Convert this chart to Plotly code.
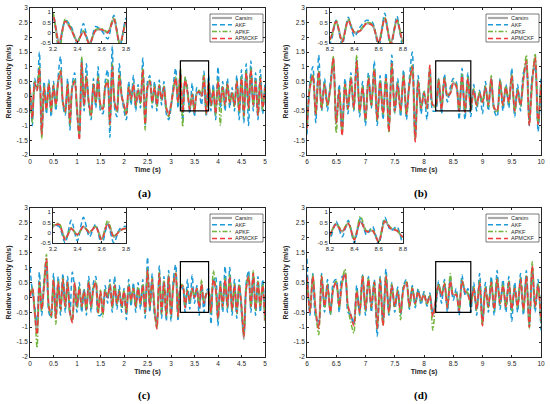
import numpy as np
import plotly.graph_objects as go

# sampling grid (0.05 s steps)
dt = 0.05
t_ac = np.round(np.arange(101) * dt, 2)
t_bd = np.round(6 + np.arange(81) * dt, 2)

series_names = ["Carsim", "AKF", "APKF", "APMCKF"]

# ---- panel (a), 0-5 s ----
carsim_a = [0.2, -0.7, 0.4, 0.2, 0.9, -1.35, 0.3, -0.4, 0.4, -0.5,
            0.35, -0.3, 0.5, 0.8, -0.2, -0.5, 0.4, -0.9, 0.3, 0.5,
            -0.4, -1.4, 1.1, -0.3, 0.6, -0.2, -0.6, 0.4, -0.2, 0.6,
            -0.3, -0.4, 0.3, 0.5, -0.9, 1.0, -0.2, -0.5, 0.7, 0.0,
            -0.3, -0.6, 0.3, -0.1, 0.4, -0.3, 0.2, -0.2, 0.85, -0.9,
            0.3, 0.5, -0.2, 0.3, -0.3, 0.35, -0.1, 0.3, -0.4, -0.6,
            -0.3, 0.2, 0.6, -0.2, 0.8, -0.5, 0.55, 0.15, -0.4, 0.05,
            -0.5, 0.1, 0.15, 0.0, 0.65, -0.55, 0.45, -0.3, 0.2, -0.6,
            0.5, -0.2, 0.3, -0.3, 0.4, -0.2, 0.1, -0.3, 0.5, -0.5,
            0.6, -0.6, 0.8, -0.4, 0.9, -0.3, 0.5, -0.6, 0.6, -0.4,
            0.3]
akf_a = [0.4, -1.0, 0.6, 0.3, 1.5, -1.2, 0.5, -0.6, 0.55, -0.7,
         0.5, -0.5, 0.7, 1.35, -0.3, -0.65, 0.6, -1.15, 0.4, 0.8,
         -0.6, -1.3, 1.3, -0.5, 1.1, -0.3, -0.8, 0.6, -0.4, 1.0,
         -0.5, -0.6, 0.5, 0.9, -1.4, 1.7, -0.4, -0.7, 1.1, 0.1,
         -0.5, -0.8, 0.5, -0.3, 0.7, -0.5, 0.4, -0.4, 1.3, -1.0,
         0.5, 0.7, -0.4, 0.5, -0.5, 0.55, -0.3, 0.5, -0.6, -0.8,
         -0.4, 0.4, 0.95, -0.4, 0.9, -0.85, 0.6, 0.3, -0.6, 0.45,
         -0.7, 0.3, 0.1, -0.3, 0.85, -0.7, 0.7, -0.5, 0.4, -0.8,
         1.0, -0.4, 0.5, -0.5, 0.6, -0.4, 0.3, -0.5, 0.7, -0.8,
         0.9, -0.9, 1.1, -1.0, 1.2, -0.5, 0.8, -0.8, 0.9, -0.6,
         0.45]
apkf_a = [0.3, -0.9, 0.5, 0.25, 1.0, -1.45, 0.35, -0.45, 0.45, -0.55,
          0.4, -0.35, 0.55, 0.9, -0.25, -0.55, 0.45, -1.0, 0.35, 0.55,
          -0.45, -1.3, 1.35, -0.35, 0.7, -0.25, -0.7, 0.45, -0.25, 0.7,
          -0.35, -0.45, 0.35, 0.6, -1.0, 1.1, -0.25, -0.55, 0.8, 0.05,
          -0.35, -0.65, 0.35, -0.15, 0.45, -0.35, 0.25, -0.25, 0.95, -1.15,
          0.35, 0.55, -0.25, 0.35, -0.35, 0.4, -0.15, 0.35, -0.45, -0.7,
          -0.35, 0.25, 0.65, -0.25, 0.95, -1.05, 0.65, 0.2, -0.45, 0.1,
          -0.55, 0.15, 0.2, 0.05, 0.75, -0.6, 0.5, -0.35, 0.25, -0.65,
          0.55, -1.0, 0.35, -0.35, 0.45, -0.25, 0.15, -0.35, 0.55, -0.55,
          0.65, -0.7, 0.85, -0.45, 0.95, -0.35, 0.55, -0.65, 0.65, -0.45,
          0.35]
apmckf_a = [0.25, -0.75, 0.45, 0.2, 0.95, -1.3, 0.3, -0.45, 0.4, -0.5,
            0.35, -0.3, 0.5, 0.85, -0.2, -0.5, 0.4, -0.9, 0.3, 0.5,
            -0.45, -1.5, 1.15, -0.3, 0.65, -0.2, -0.65, 0.4, -0.2, 0.6,
            -0.3, -0.45, 0.3, 0.5, -0.95, 1.0, -0.2, -0.5, 0.7, 0.0,
            -0.3, -0.6, 0.3, -0.1, 0.4, -0.3, 0.2, -0.2, 0.9, -0.95,
            0.3, 0.5, -0.2, 0.3, -0.3, 0.35, -0.1, 0.3, -0.4, -0.65,
            -0.3, 0.2, 0.6, -0.2, 0.85, -0.55, 0.55, 0.15, -0.45, 0.05,
            -0.55, 0.1, 0.15, 0.0, 0.65, -0.6, 0.5, -0.3, 0.2, -0.6,
            0.5, -0.2, 0.3, -0.3, 0.4, -0.2, 0.1, -0.3, 0.5, -0.5,
            0.6, -0.65, 0.8, -0.4, 0.9, -0.3, 0.5, -0.65, 0.6, -0.4,
            0.3]

# ---- panel (b), 6-10 s ----
carsim_b = [-1.1, 0.3, 0.7, -0.6, 0.8, -0.4, 0.4, -0.3, 0.3, 1.3,
            -0.9, 0.2, -1.3, 0.4, -0.4, 0.6, -0.4, 1.2, -0.5, 0.3,
            -0.8, 0.6, -0.3, 0.9, -0.8, 0.5, -0.6, 0.6, -1.15, 1.1,
            -0.5, 0.4, -0.5, 0.7, -0.6, 0.4, 1.0, -1.5, 0.5, -0.4,
            0.1, -0.4, 1.0, -0.3, -0.3, 0.55, -0.4, 0.6, 0.0, 0.1,
            0.45, 0.35, -0.45, 0.7, -0.5, 0.6, -0.4, 0.2, -0.3, 0.1,
            -0.2, 0.3, -0.3, 0.6, -0.4, -0.5, 0.5, -0.3, 0.3, -0.2,
            0.7, -0.5, 0.2, -0.3, 0.6, 1.2, -0.9, 0.5, 1.3, -0.9,
            0.4]
akf_b = [-1.3, 0.5, 1.0, -0.9, 1.4, -0.5, 0.6, -0.5, 0.5, 1.2,
         -0.9, 0.4, -1.1, 0.6, -0.6, 0.8, -0.5, 1.3, -0.7, 0.5,
         -1.0, 0.8, -0.4, 1.2, -1.0, 0.7, -0.8, 0.8, -1.0, 1.4,
         -0.6, 0.6, -0.7, 0.9, -0.8, 0.6, 1.5, -1.3, 0.7, -0.6,
         0.2, -0.8, 0.9, -0.5, -0.5, 0.6, -0.6, 0.75, -0.2, 0.3,
         0.6, 0.5, -0.8, 0.95, -0.8, 0.8, -0.7, 0.4, -0.5, 0.2,
         -0.6, 0.5, -0.5, 0.6, -0.5, -0.7, 0.6, -0.5, 0.4, -0.4,
         0.95, -0.7, 0.4, -0.5, 0.8, 1.0, -1.0, 0.7, 1.0, -1.2,
         0.6]
apkf_b = [-1.0, 0.35, 0.75, -0.65, 0.85, -0.45, 0.45, -0.35, 0.35, 1.35,
          -1.25, 0.25, -1.2, 0.45, -0.45, 0.65, -0.45, 1.4, -0.55, 0.35,
          -0.85, 0.65, -0.35, 0.95, -0.85, 0.55, -0.65, 0.65, -1.25, 1.15,
          -0.55, 0.45, -0.55, 0.75, -0.65, 0.45, 1.05, -1.4, 0.55, -0.45,
          0.15, -0.45, 0.95, -0.35, -0.35, 0.6, -0.45, 0.65, 0.05, 0.15,
          0.5, 0.4, -0.5, 0.75, -0.55, 0.65, -0.45, 0.25, -0.35, 0.15,
          -0.25, 0.35, -0.35, 0.7, -0.45, -0.55, 0.55, -0.35, 0.35, -0.25,
          0.75, -0.55, 0.25, -0.35, 0.65, 1.4, -0.95, 0.55, 1.45, -0.95,
          0.45]
apmckf_b = [-1.1, 0.3, 0.7, -0.6, 0.85, -0.4, 0.4, -0.3, 0.3, 1.3,
            -0.9, 0.2, -1.35, 0.4, -0.4, 0.6, -0.4, 1.2, -0.5, 0.3,
            -0.8, 0.6, -0.3, 0.9, -0.8, 0.5, -0.6, 0.6, -1.2, 1.1,
            -0.5, 0.4, -0.5, 0.7, -0.6, 0.4, 1.0, -1.55, 0.5, -0.4,
            0.1, -0.4, 1.05, -0.3, -0.3, 0.55, -0.45, 0.6, 0.0, 0.1,
            0.45, 0.35, -0.5, 0.7, -0.55, 0.6, -0.4, 0.2, -0.3, 0.1,
            -0.2, 0.3, -0.3, 0.6, -0.4, -0.5, 0.5, -0.3, 0.3, -0.2,
            0.7, -0.5, 0.2, -0.3, 0.6, 1.2, -1.0, 0.5, 1.3, -0.95,
            0.4]

# ---- panel (c), 0-5 s ----
carsim_c = [0.0, 0.3, -0.5, -1.2, 0.5, -0.4, 0.4, 1.3, -0.3, -0.6,
            0.6, -0.7, 0.5, -0.4, 0.6, -0.3, 0.5, -0.5, -0.8, 0.5,
            -0.3, 0.3, -0.3, 0.2, -0.4, 0.5, -0.3, 0.3, 0.5, -0.5,
            0.2, -0.55, 0.2, 0.0, 0.4, -0.3, 0.4, -0.2, 0.2, -0.3,
            0.2, -0.5, 0.4, -0.1, 0.3, -0.3, 0.3, -0.2, 0.4, -0.5,
            0.9, -0.3, 0.6, -0.4, -1.05, 0.8, -0.5, 0.5, -0.6, 0.7,
            -0.6, 0.4, 0.8, -0.6, 0.3, 0.4, -0.3, 0.2, -0.1, 0.3,
            0.0, 0.3, -0.3, 0.45, -0.2, 0.1, 0.2, -0.5, 0.6, 0.3,
            -0.7, 0.4, -0.3, 0.6, -0.3, 0.7, -0.4, 0.4, -0.5, 0.4,
            -0.3, -1.4, 0.3, 0.7, -0.3, 0.8, -0.4, 0.5, -0.3, 0.4,
            -0.8]
akf_c = [1.0, 0.2, -0.3, -0.9, 0.85, -0.6, 0.6, 1.2, -0.5, -0.7,
         0.8, -0.6, 0.7, -0.6, 0.8, -0.5, 0.7, -0.6, 0.85, 0.3,
         -0.5, 0.5, -0.5, 0.3, -0.6, 0.7, -0.5, 0.5, 0.7, -0.6,
         -0.6, -0.4, 0.4, -0.2, 0.6, -0.5, 0.7, -0.4, 0.4, -0.5,
         0.3, -0.75, 0.6, -0.3, 0.5, -0.5, 0.5, -0.4, 0.6, -0.7,
         1.35, -0.5, 0.8, -0.6, -0.8, 1.05, -0.7, 0.7, -0.8, 0.9,
         -0.8, 0.6, 1.1, -0.8, 0.35, 0.3, -0.5, 0.6, -0.4, 0.75,
         -0.2, 0.4, -0.6, 0.4, -0.5, 0.2, 0.3, -0.9, 0.5, 0.7,
         -0.95, 0.6, -0.5, 1.05, -0.5, 1.0, -0.6, 0.6, -0.7, 0.6,
         -0.5, -1.2, 0.5, 0.9, -0.5, 0.7, -0.6, 0.7, -0.5, 0.6,
         -0.6]
apkf_c = [0.1, 0.35, -0.4, -1.7, 0.55, -0.45, 0.5, 1.45, -0.35, -0.65,
          0.6, -0.9, 0.55, -0.45, 0.65, -0.35, 0.55, -0.55, -0.75, 0.45,
          -0.35, 0.35, -0.35, 0.25, -0.45, 0.55, -0.35, 0.35, 0.55, -0.55,
          0.25, -0.65, 0.25, 0.05, 0.45, -0.35, 0.45, -0.25, 0.25, -0.35,
          0.25, -0.55, 0.45, -0.15, 0.35, -0.35, 0.35, -0.25, 0.45, -0.55,
          0.95, -0.35, 0.65, -0.45, -1.0, 0.85, -0.55, 0.55, -0.65, 0.75,
          -0.65, 0.45, 0.85, -0.65, 0.35, 0.45, -0.3, 0.25, -0.15, 0.3,
          0.05, 0.3, -0.3, 0.6, -0.15, 0.1, 0.2, -0.55, 0.9, 0.35,
          -0.75, 0.45, -0.35, 0.65, -0.35, 0.75, -0.45, 0.45, -0.55, 0.45,
          -0.35, -1.3, 0.35, 0.75, -0.35, 0.9, -0.45, 0.55, -0.35, 0.45,
          -0.85]
apmckf_c = [0.05, 0.3, -0.5, -1.25, 0.5, -0.4, 0.4, 1.3, -0.3, -0.6,
            0.6, -0.7, 0.5, -0.4, 0.6, -0.3, 0.5, -0.5, -0.85, 0.5,
            -0.3, 0.3, -0.3, 0.2, -0.4, 0.5, -0.3, 0.3, 0.5, -0.5,
            0.2, -0.55, 0.2, 0.0, 0.4, -0.3, 0.4, -0.2, 0.2, -0.3,
            0.2, -0.5, 0.4, -0.1, 0.3, -0.3, 0.3, -0.2, 0.4, -0.5,
            0.9, -0.3, 0.6, -0.4, -1.05, 0.8, -0.5, 0.5, -0.6, 0.7,
            -0.6, 0.4, 0.8, -0.65, 0.3, 0.4, -0.35, 0.2, -0.1, 0.3,
            0.0, 0.3, -0.35, 0.45, -0.2, 0.1, 0.2, -0.5, 0.6, 0.3,
            -0.7, 0.4, -0.3, 0.6, -0.3, 0.7, -0.4, 0.4, -0.5, 0.4,
            -0.3, -1.3, 0.3, 0.7, -0.3, 0.8, -0.4, 0.5, -0.3, 0.4,
            -0.75]

# ---- panel (d), 6-10 s ----
carsim_d = [0.7, -0.5, 0.7, -0.5, -1.0, 0.7, -0.3, 0.4, -0.5, 0.3,
            0.5, -0.3, 0.5, 0.8, -0.3, -0.6, -0.9, 0.2, -0.5, 0.7,
            -0.4, 0.6, -0.3, 0.5, -1.0, 0.6, -0.9, 0.7, -0.5, 0.4,
            -0.3, 0.2, -0.5, 0.3, 0.5, -0.3, 0.3, -0.2, 0.2, -0.1,
            0.1, -0.2, 0.05, -0.6, -0.1, 0.4, 0.05, 0.45, -0.3, 0.55,
            0.05, 0.1, -0.4, 0.55, 0.2, 0.1, -0.2, 0.3, -0.4, 0.5,
            -0.9, 0.3, -0.3, 0.5, -0.4, 0.6, -0.2, 0.4, -0.3, 0.5,
            -0.4, 0.3, -0.3, 0.6, -0.4, 0.7, -1.0, 1.05, -0.3, 0.4,
            -0.8]
akf_d = [1.3, -0.6, 0.8, -0.7, -0.8, 0.8, -0.5, 0.6, -0.6, 0.5,
         0.6, -0.5, 0.7, 0.7, -0.5, -0.6, -0.9, 0.4, -0.6, 0.75,
         -0.6, 0.7, -0.5, 0.6, -1.3, 0.7, -0.8, 0.95, -0.6, 0.5,
         -0.5, 0.35, -0.6, 0.4, 0.6, -0.4, 0.4, -0.35, 0.3, -0.25,
         0.2, -0.3, 0.15, -0.5, -0.3, 0.55, -0.2, 0.6, -0.5, 0.7,
         -0.1, 0.3, -0.6, 0.75, 0.1, 0.3, -0.5, 0.5, -0.6, 0.8,
         -0.7, 0.5, -0.5, 0.7, -0.6, 0.9, -0.4, 0.6, -0.5, 0.7,
         -0.8, 0.5, -0.5, 0.8, -0.6, 0.9, -0.9, 0.9, -0.5, 0.6,
         -1.1]
apkf_d = [0.6, -0.45, 0.75, -0.55, -1.25, 0.75, -0.35, 0.45, -0.55, 0.35,
          0.55, -0.35, 0.55, 0.95, -0.35, -0.85, -1.2, 0.25, -0.55, 0.75,
          -0.45, 0.65, -0.35, 0.55, -1.05, 0.65, -0.95, 0.75, -0.55, 0.45,
          -0.35, 0.25, -0.75, 0.35, 0.55, -0.35, 0.35, -0.25, 0.25, -0.15,
          0.15, -0.25, 0.1, -1.1, -0.15, 0.45, 0.1, 0.5, -0.35, 0.8,
          0.1, 0.15, -0.45, 0.6, 0.25, 0.15, -0.25, 0.35, -0.45, 0.55,
          -0.95, 0.35, -0.35, 0.55, -0.45, 0.65, -0.25, 0.45, -0.35, 0.55,
          -0.45, 0.35, -0.35, 0.65, -0.45, 0.75, -1.05, 1.2, -0.35, 0.45,
          -0.85]
apmckf_d = [0.7, -0.5, 0.7, -0.5, -1.05, 0.7, -0.3, 0.4, -0.5, 0.3,
            0.5, -0.3, 0.5, 0.8, -0.3, -0.6, -0.95, 0.2, -0.5, 0.7,
            -0.4, 0.6, -0.3, 0.5, -1.05, 0.6, -0.95, 0.7, -0.5, 0.4,
            -0.3, 0.2, -0.5, 0.3, 0.5, -0.3, 0.3, -0.2, 0.2, -0.1,
            0.1, -0.2, 0.05, -0.65, -0.1, 0.4, 0.05, 0.45, -0.35, 0.55,
            0.05, 0.1, -0.45, 0.55, 0.2, 0.1, -0.2, 0.3, -0.4, 0.5,
            -0.95, 0.3, -0.3, 0.5, -0.4, 0.6, -0.2, 0.4, -0.3, 0.5,
            -0.4, 0.3, -0.3, 0.6, -0.4, 0.7, -1.0, 1.05, -0.3, 0.4,
            -0.8]

# tick labels
y_ticks = [-2, -1.5, -1, -0.5, 0, 0.5, 1, 1.5, 2, 2.5, 3]
x_ticks_ac = [0, 0.5, 1, 1.5, 2, 2.5, 3, 3.5, 4, 4.5, 5]
x_ticks_bd = [6, 6.5, 7, 7.5, 8, 8.5, 9, 9.5, 10]
inset_y_ticks = [-0.5, 0, 0.5, 1]
inset_x_ticks_ac = [3.2, 3.4, 3.6, 3.8]
inset_x_ticks_bd = [8.2, 8.4, 8.6, 8.8]

W, H = 550, 404
styles = [
    dict(color="#A8A8A8", width=2.2, dash="solid"),
    dict(color="#1E9BD7", width=1.5, dash="5px,3px"),
    dict(color="#72B43C", width=1.5, dash="5px,2px,1.5px,2px"),
    dict(color="#F23A3A", width=1.5, dash="5px,3px"),
]
AX = "#262626"
FONT = "Liberation Sans"


def lab(v):
    return ("%g" % v)


def px(x):
    return x / W


def py(y):
    return 1 - y / H


panels = [
    dict(tag="(a)", t=t_ac, ys=[carsim_a, akf_a, apkf_a, apmckf_a], xr=[0, 5],
         xt=x_ticks_ac, zr=[3.2, 3.8], zt=inset_x_ticks_ac, left=30, right=265, top=8, bot=155),
    dict(tag="(b)", t=t_bd, ys=[carsim_b, akf_b, apkf_b, apmckf_b], xr=[6, 10],
         xt=x_ticks_bd, zr=[8.2, 8.8], zt=inset_x_ticks_bd, left=307, right=541, top=8, bot=155),
    dict(tag="(c)", t=t_ac, ys=[carsim_c, akf_c, apkf_c, apmckf_c], xr=[0, 5],
         xt=x_ticks_ac, zr=[3.2, 3.8], zt=inset_x_ticks_ac, left=30, right=265, top=208, bot=357),
    dict(tag="(d)", t=t_bd, ys=[carsim_d, akf_d, apkf_d, apmckf_d], xr=[6, 10],
         xt=x_ticks_bd, zr=[8.2, 8.8], zt=inset_x_ticks_bd, left=307, right=541, top=208, bot=357),
]

fig = go.Figure()
layout = dict(width=W, height=H, margin=dict(l=0, r=0, t=0, b=0),
              paper_bgcolor="white", plot_bgcolor="white", showlegend=False,
              font=dict(family=FONT, size=6, color=AX))
shapes = []
annotations = []


def axis_common():
    return dict(showline=True, linecolor=AX, linewidth=0.8, mirror="ticks",
                ticks="inside", ticklen=2.5, tickwidth=0.6, tickcolor=AX,
                showgrid=False, zeroline=False, automargin=False,
                tickfont=dict(family=FONT, size=6.5, color=AX))


for i, p in enumerate(panels):
    m = i + 1          # main axes
    z = i + 5          # inset axes
    mx = "x" if m == 1 else "x%d" % m
    my = "y" if m == 1 else "y%d" % m
    zx, zy = "x%d" % z, "y%d" % z

    for k, name in enumerate(series_names):
        for ax, ay in ((mx, my), (zx, zy)):
            fig.add_trace(go.Scatter(
                x=p["t"], y=p["ys"][k], xaxis=ax, yaxis=ay, mode="lines",
                name=name, line=dict(shape="spline", smoothing=0.8, **styles[k]),
                hoverinfo="skip"))

    xa = axis_common()
    xa.update(domain=[px(p["left"]), px(p["right"])], range=p["xr"], anchor=my,
              tickvals=p["xt"], ticktext=[lab(v) for v in p["xt"]],
              title=dict(text="<b>Time (s)</b>", font=dict(family=FONT, size=7, color=AX), standoff=3))
    ya = axis_common()
    ya.update(domain=[py(p["bot"]), py(p["top"])], range=[-2, 3], anchor=mx,
              tickvals=y_ticks, ticktext=[lab(v) for v in y_ticks],
              title=dict(text="<b>Relative Velocity (m/s)</b>", font=dict(family=FONT, size=7, color=AX), standoff=4))
    layout["xaxis" if m == 1 else "xaxis%d" % m] = xa
    layout["yaxis" if m == 1 else "yaxis%d" % m] = ya

    il = p["left"] + 23
    za = axis_common()
    za.update(domain=[px(il), px(il + 73)], range=p["zr"], anchor=zy,
              tickvals=p["zt"], ticktext=[lab(v) for v in p["zt"]])
    za["tickfont"]["size"] = 6
    zya = axis_common()
    zya.update(domain=[py(p["top"] + 35), py(p["top"])], range=[-0.5, 1.2], anchor=zx,
               tickvals=inset_y_ticks, ticktext=[lab(v) for v in inset_y_ticks])
    zya["tickfont"]["size"] = 6
    layout["xaxis%d" % z] = za
    layout["yaxis%d" % z] = zya

    # zoom window on the main axes
    shapes.append(dict(type="rect", xref=mx, yref=my, x0=p["zr"][0], x1=p["zr"][1],
                       y0=-0.5, y1=1.2, line=dict(color="black", width=1.2), layer="above"))

    # legend box
    bx0, bx1 = p["right"] - 55, p["right"] - 2
    by0, by1 = p["top"] + 6, p["top"] + 34
    shapes.append(dict(type="rect", xref="paper", yref="paper", x0=px(bx0), x1=px(bx1),
                       y0=py(by1), y1=py(by0), fillcolor="white",
                       line=dict(color=AX, width=0.6), layer="above"))
    for k, name in enumerate(series_names):
        ry = by0 + 4 + 6.8 * k
        st = styles[k]
        shapes.append(dict(type="line", xref="paper", yref="paper", x0=px(bx0 + 2), x1=px(bx0 + 22),
                           y0=py(ry), y1=py(ry), layer="above",
                           line=dict(color=st["color"], width=st["width"], dash=st["dash"])))
        annotations.append(dict(text=name, xref="paper", yref="paper", x=px(bx0 + 23), y=py(ry),
                                xanchor="left", yanchor="middle", showarrow=False,
                                font=dict(family=FONT, size=5.5, color=AX)))

    annotations.append(dict(text="<b>%s</b>" % p["tag"], xref="paper", yref="paper",
                            x=px((p["left"] + p["right"]) / 2 - 3), y=py(p["bot"] + 38),
                            xanchor="center", yanchor="middle", showarrow=False,
                            font=dict(family="Liberation Serif", size=11, color="black")))

layout["shapes"] = shapes
layout["annotations"] = annotations
fig.update_layout(**layout)
# the page body has a default 8px margin; remove it so the figure fills the window
fig.write_html("out.html", config={"displayModeBar": False},
               post_script="document.body.style.margin='0';")
